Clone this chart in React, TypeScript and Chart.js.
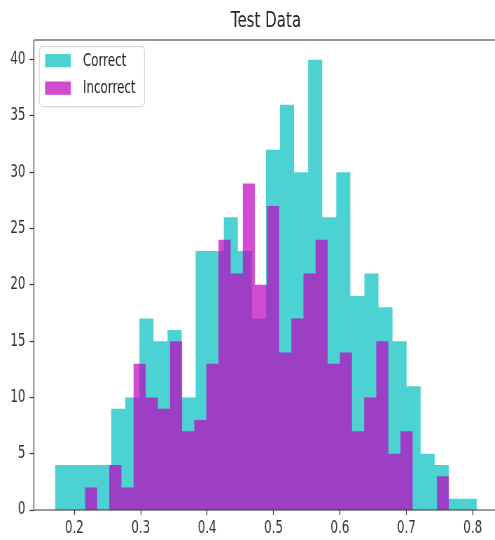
import React, { useEffect, useRef } from "react";
import { Chart, registerables } from "chart.js";

Chart.register(...registerables);

// ---- data ----
const titleText = "Test Data";
const seriesLabels = ["Correct", "Incorrect"];
const correctCounts = [4, 4, 4, 4, 9, 10, 17, 15, 16, 10, 23, 23, 26, 23, 17, 32, 36, 30, 40, 26, 30, 19, 21, 18, 15, 11, 5, 4, 1, 1];
const incorrectCounts = [2, 0, 4, 2, 13, 10, 9, 15, 7, 8, 13, 24, 21, 29, 20, 27, 14, 17, 21, 24, 13, 14, 7, 10, 15, 5, 7, 0, 0, 3];
const correctRange = [0.1709, 0.8062];
const incorrectRange = [0.2161, 0.7643];
const xTicks = [0.2, 0.3, 0.4, 0.5, 0.6, 0.7, 0.8];
const yTicks = [0, 5, 10, 15, 20, 25, 30, 35, 40];

// histogram bins -> step points (bin left edges + closing right edge)
function histPoints(counts: number[], range: number[]) {
  const n = counts.length;
  const w = (range[1] - range[0]) / n;
  const pts = counts.map((c, i) => ({ x: range[0] + i * w, y: c }));
  pts.push({ x: range[1], y: counts[n - 1] });
  return pts;
}

const SX = 0.7; // horizontal squeeze of the reference picture
const FONT = '"DejaVu Sans", "Liberation Sans", sans-serif';
const CYAN = "rgba(0,191,191,0.7)";
const MAGENTA = "rgba(191,0,191,0.7)";

const frameLegendPlugin = {
  id: "frameLegend",
  afterDatasetsDraw(chart: any) {
    const { ctx, chartArea: a } = chart;
    ctx.save();
    // spines
    ctx.strokeStyle = "#333";
    ctx.lineWidth = 1.2;
    ctx.beginPath();
    ctx.moveTo(a.left, a.top);
    ctx.lineTo(a.right + 2, a.top);
    ctx.moveTo(a.left, a.top);
    ctx.lineTo(a.left, a.bottom);
    ctx.lineTo(a.right + 2, a.bottom);
    ctx.stroke();

    // legend (upper left, inside axes)
    const lx = a.left + 8;
    const ly = 46.7;
    const lw = 150;
    const lh = 60;
    ctx.beginPath();
    if (ctx.roundRect) ctx.roundRect(lx, ly, lw, lh, 4);
    else ctx.rect(lx, ly, lw, lh);
    ctx.fillStyle = "rgba(255,255,255,0.8)";
    ctx.fill();
    ctx.strokeStyle = "#d0d0d0";
    ctx.lineWidth = 1;
    ctx.stroke();

    const ds = chart.data.datasets;
    const rows = [0, 1];
    ctx.font = `17px ${FONT}`;
    ctx.textBaseline = "middle";
    ctx.textAlign = "left";
    rows.forEach((di, r) => {
      const py = 54 + r * 27.5;
      ctx.fillStyle = ds[di].backgroundColor;
      ctx.fillRect(lx + 8, py, 36.7, 13.3);
      ctx.fillStyle = "#222";
      ctx.fillText(ds[di].label, lx + 62, py + 7.5);
    });
    ctx.restore();
  },
};

export default function App() {
  const ref = useRef<HTMLCanvasElement | null>(null);

  useEffect(() => {
    if (!ref.current) return;
    Chart.defaults.font.family = FONT;
    const chart = new Chart(ref.current, {
      type: "line",
      data: {
        datasets: [
          {
            label: seriesLabels[0],
            data: histPoints(correctCounts, correctRange),
            backgroundColor: CYAN,
            borderColor: "rgba(0,0,0,0)",
            borderWidth: 0,
            pointRadius: 0,
            stepped: "before",
            fill: "origin",
            order: 1,
          },
          {
            label: seriesLabels[1],
            data: histPoints(incorrectCounts, incorrectRange),
            backgroundColor: MAGENTA,
            borderColor: "rgba(0,0,0,0)",
            borderWidth: 0,
            pointRadius: 0,
            stepped: "before",
            fill: "origin",
            order: 0,
          },
        ],
      },
      options: {
        responsive: false,
        animation: false,
        events: [],
        layout: { padding: { left: 0, right: 18.6, top: 0, bottom: 0 } },
        plugins: {
          legend: { display: false },
          tooltip: { enabled: false },
          title: {
            display: true,
            fullSize: false,
            text: titleText,
            color: "#222",
            font: { size: 21.5, weight: "normal", family: FONT },
            padding: { top: 8.5, bottom: 5.7 },
          },
        },
        scales: {
          x: {
            type: "linear",
            min: 0.1391,
            max: 0.838,
            afterBuildTicks: (s: any) => {
              s.ticks = xTicks.map((v) => ({ value: v }));
            },
            afterFit: (s: any) => {
              s.height = 30;
            },
            ticks: {
              autoSkip: false,
              maxRotation: 0,
              color: "#333",
              padding: 3,
              font: { size: 17, family: FONT },
              callback: (v: any) => Number(v).toFixed(1),
            },
            grid: {
              drawOnChartArea: false,
              drawTicks: true,
              tickLength: 5,
              tickColor: "#333",
              tickWidth: 1.2,
            },
            border: { display: false },
          },
          y: {
            type: "linear",
            min: 0,
            max: 41.75,
            afterBuildTicks: (s: any) => {
              s.ticks = yTicks.map((v) => ({ value: v }));
            },
            afterFit: (s: any) => {
              s.width = 48.4;
            },
            ticks: {
              autoSkip: false,
              color: "#333",
              padding: 6,
              font: { size: 17, family: FONT },
              callback: (v: any) => String(v),
            },
            grid: {
              drawOnChartArea: false,
              drawTicks: true,
              tickLength: 6,
              tickColor: "#333",
              tickWidth: 1.2,
            },
            border: { display: false },
          },
        },
      },
      plugins: [frameLegendPlugin],
    } as any);
    return () => chart.destroy();
  }, []);

  return (
    <div
      style={{
        position: "absolute",
        left: 0,
        top: 0,
        width: 495,
        height: 540,
        overflow: "hidden",
        background: "#fff",
      }}
    >
      <canvas
        ref={ref}
        width={730}
        height={540}
        style={{
          width: 730,
          height: 540,
          display: "block",
          transform: `scaleX(${SX})`,
          transformOrigin: "0 0",
        }}
      />
    </div>
  );
}
